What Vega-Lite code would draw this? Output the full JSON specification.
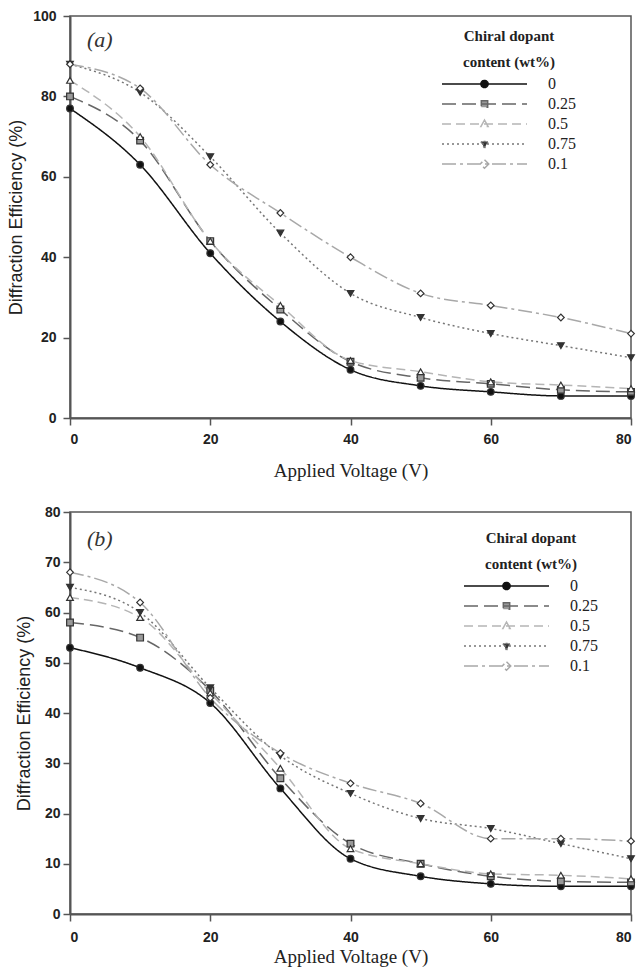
{
  "$schema": "https://vega.github.io/schema/vega-lite/v6.json",
  "padding": {"top": 8, "left": 6, "right": 0, "bottom": 0},
  "background": "white",
  "spacing": 23,
  "config": {
    "view": {"stroke": "#555", "strokeWidth": 1.5},
    "axis": {
      "grid": false, "domainColor": "#555", "domainWidth": 2, "tickColor": "#555", "tickWidth": 1.5, "tickSize": 7,
      "labelFont": "Liberation Sans", "labelFontWeight": "bold", "labelFontSize": 14, "labelColor": "#222",
      "titleColor": "#222", "titleFontWeight": "normal"
    },
    "point": {"size": 45, "strokeWidth": 1.2, "stroke": "#333", "filled": true, "opacity": 1},
    "legend": {
      "orient": "none",
      "titleFont": "Liberation Serif", "titleFontSize": 15, "titleFontWeight": "bold", "titleColor": "#222", "titleLineHeight": 26, "titleAnchor": "middle", "titlePadding": 4,
      "labelFont": "Liberation Serif", "labelFontSize": 16, "labelColor": "#222", "labelOffset": 20,
      "symbolSize": 7225, "clipHeight": 20, "rowPadding": 0, "symbolStrokeWidth": 1.5
    }
  },
  "resolve": {"scale": {"stroke": "independent", "strokeDash": "independent"}, "legend": {"stroke": "independent", "strokeDash": "independent"}},
  "vconcat": [
    {
      "width": 561, "height": 402,
      "title": {"text": "(a)", "anchor": "start", "frame": "group", "offset": -43, "dx": 17, "font": "Liberation Serif", "fontStyle": "italic", "fontSize": 22, "fontWeight": "normal", "color": "#333"},
      "data": {"values": [
        {"V": 0, "DE": 77, "content": "0"}, {"V": 10, "DE": 63, "content": "0"}, {"V": 20, "DE": 41, "content": "0"}, {"V": 30, "DE": 24, "content": "0"}, {"V": 40, "DE": 12, "content": "0"}, {"V": 50, "DE": 8, "content": "0"}, {"V": 60, "DE": 6.5, "content": "0"}, {"V": 70, "DE": 5.5, "content": "0"}, {"V": 80, "DE": 5.5, "content": "0"},
        {"V": 0, "DE": 80, "content": "0.25"}, {"V": 10, "DE": 69, "content": "0.25"}, {"V": 20, "DE": 44, "content": "0.25"}, {"V": 30, "DE": 27, "content": "0.25"}, {"V": 40, "DE": 14, "content": "0.25"}, {"V": 50, "DE": 10, "content": "0.25"}, {"V": 60, "DE": 8.5, "content": "0.25"}, {"V": 70, "DE": 7, "content": "0.25"}, {"V": 80, "DE": 6.5, "content": "0.25"},
        {"V": 0, "DE": 84, "content": "0.5"}, {"V": 10, "DE": 70, "content": "0.5"}, {"V": 20, "DE": 44, "content": "0.5"}, {"V": 30, "DE": 28, "content": "0.5"}, {"V": 40, "DE": 14.3, "content": "0.5"}, {"V": 50, "DE": 11.5, "content": "0.5"}, {"V": 60, "DE": 9, "content": "0.5"}, {"V": 70, "DE": 8.2, "content": "0.5"}, {"V": 80, "DE": 7.3, "content": "0.5"},
        {"V": 0, "DE": 88, "content": "0.75"}, {"V": 10, "DE": 81, "content": "0.75"}, {"V": 20, "DE": 65, "content": "0.75"}, {"V": 30, "DE": 46, "content": "0.75"}, {"V": 40, "DE": 31, "content": "0.75"}, {"V": 50, "DE": 25, "content": "0.75"}, {"V": 60, "DE": 21, "content": "0.75"}, {"V": 70, "DE": 18, "content": "0.75"}, {"V": 80, "DE": 15, "content": "0.75"},
        {"V": 0, "DE": 88, "content": "0.1"}, {"V": 10, "DE": 82, "content": "0.1"}, {"V": 20, "DE": 63, "content": "0.1"}, {"V": 30, "DE": 51, "content": "0.1"}, {"V": 40, "DE": 40, "content": "0.1"}, {"V": 50, "DE": 31, "content": "0.1"}, {"V": 60, "DE": 28, "content": "0.1"}, {"V": 70, "DE": 25, "content": "0.1"}, {"V": 80, "DE": 21, "content": "0.1"}
      ]},
      "encoding": {
        "x": {"field": "V", "type": "quantitative", "scale": {"domain": [0, 80], "nice": false},
          "axis": {"values": [0, 20, 40, 60, 80], "title": "Applied Voltage (V)", "titleFont": "Liberation Serif", "titleFontSize": 19, "titlePadding": 15, "labelPadding": 7}},
        "y": {"field": "DE", "type": "quantitative", "scale": {"domain": [0, 100], "nice": false},
          "axis": {"values": [0, 20, 40, 60, 80, 100], "title": "Diffraction Efficiency (%)", "titleFont": "Liberation Sans", "titleFontSize": 18, "titlePadding": 7, "labelPadding": 7}}
      },
      "layer": [
        {
          "mark": {"type": "line", "interpolate": "monotone", "strokeWidth": 1.5},
          "encoding": {
            "stroke": {"field": "content", "type": "nominal",
              "scale": {"domain": ["0", "0.25", "0.5", "0.75", "0.1"], "range": ["#111", "#666", "#b5b5b5", "#777", "#a8a8a8"]},
              "legend": {"title": ["Chiral dopant", "content (wt%)"], "legendX": 371, "legendY": 13,
                "symbolType": {"expr": "datum.value == '0' ? 'M-1,0H1M0.085,0A0.085,0.085,0,1,1,-0.085,0A0.085,0.085,0,1,1,0.085,0Z' : datum.value == '0.25' ? 'M-1,0H1M-0.075,-0.075H0.075V0.075H-0.075Z' : datum.value == '0.5' ? 'M-1,0H1M0,-0.095L0.085,0.06H-0.085Z' : datum.value == '0.75' ? 'M-1,0H1M0,0.095L0.085,-0.06H-0.085Z' : 'M-1,0H1M0,-0.1L0.1,0L0,0.1L-0.1,0Z'"},
                "symbolFillColor": {"expr": "datum.value == '0' ? '#111' : datum.value == '0.25' ? '#999' : datum.value == '0.75' ? '#333' : '#fff'"}}},
            "strokeDash": {"field": "content", "type": "nominal",
              "scale": {"domain": ["0", "0.25", "0.5", "0.75", "0.1"], "range": [[1, 0], [14, 6], [9, 5], [2, 3], [14, 4, 3, 4]]},
              "legend": {"title": ["Chiral dopant", "content (wt%)"], "legendX": 371, "legendY": 13,
                "symbolType": {"expr": "datum.value == '0' ? 'M-1,0H1M0.085,0A0.085,0.085,0,1,1,-0.085,0A0.085,0.085,0,1,1,0.085,0Z' : datum.value == '0.25' ? 'M-1,0H1M-0.075,-0.075H0.075V0.075H-0.075Z' : datum.value == '0.5' ? 'M-1,0H1M0,-0.095L0.085,0.06H-0.085Z' : datum.value == '0.75' ? 'M-1,0H1M0,0.095L0.085,-0.06H-0.085Z' : 'M-1,0H1M0,-0.1L0.1,0L0,0.1L-0.1,0Z'"},
                "symbolFillColor": {"expr": "datum.value == '0' ? '#111' : datum.value == '0.25' ? '#999' : datum.value == '0.75' ? '#333' : '#fff'"}}}
          }
        },
        {"transform": [{"filter": "datum.content == '0'"}], "mark": {"type": "point", "shape": "circle", "fill": "#111"}},
        {"transform": [{"filter": "datum.content == '0.25'"}], "mark": {"type": "point", "shape": "square", "fill": "#999"}},
        {"transform": [{"filter": "datum.content == '0.5'"}], "mark": {"type": "point", "shape": "triangle-up", "fill": "#fff"}},
        {"transform": [{"filter": "datum.content == '0.75'"}], "mark": {"type": "point", "shape": "triangle-down", "fill": "#333"}},
        {"transform": [{"filter": "datum.content == '0.1'"}], "mark": {"type": "point", "shape": "diamond", "fill": "#fff"}}
      ]
    },
    {
      "width": 561, "height": 402,
      "title": {"text": "(b)", "anchor": "start", "frame": "group", "offset": -46, "dx": 17, "font": "Liberation Serif", "fontStyle": "italic", "fontSize": 22, "fontWeight": "normal", "color": "#333"},
      "data": {"values": [
        {"V": 0, "DE": 53, "content": "0"}, {"V": 10, "DE": 49, "content": "0"}, {"V": 20, "DE": 42, "content": "0"}, {"V": 30, "DE": 25, "content": "0"}, {"V": 40, "DE": 11, "content": "0"}, {"V": 50, "DE": 7.5, "content": "0"}, {"V": 60, "DE": 6, "content": "0"}, {"V": 70, "DE": 5.5, "content": "0"}, {"V": 80, "DE": 5.5, "content": "0"},
        {"V": 0, "DE": 58, "content": "0.25"}, {"V": 10, "DE": 55, "content": "0.25"}, {"V": 20, "DE": 44.5, "content": "0.25"}, {"V": 30, "DE": 27, "content": "0.25"}, {"V": 40, "DE": 14, "content": "0.25"}, {"V": 50, "DE": 10, "content": "0.25"}, {"V": 60, "DE": 7.5, "content": "0.25"}, {"V": 70, "DE": 6.5, "content": "0.25"}, {"V": 80, "DE": 6.3, "content": "0.25"},
        {"V": 0, "DE": 63, "content": "0.5"}, {"V": 10, "DE": 59, "content": "0.5"}, {"V": 20, "DE": 44, "content": "0.5"}, {"V": 30, "DE": 29, "content": "0.5"}, {"V": 40, "DE": 13, "content": "0.5"}, {"V": 50, "DE": 10, "content": "0.5"}, {"V": 60, "DE": 8, "content": "0.5"}, {"V": 70, "DE": 7.7, "content": "0.5"}, {"V": 80, "DE": 7, "content": "0.5"},
        {"V": 0, "DE": 65, "content": "0.75"}, {"V": 10, "DE": 60, "content": "0.75"}, {"V": 20, "DE": 45, "content": "0.75"}, {"V": 30, "DE": 31.5, "content": "0.75"}, {"V": 40, "DE": 24, "content": "0.75"}, {"V": 50, "DE": 19, "content": "0.75"}, {"V": 60, "DE": 17, "content": "0.75"}, {"V": 70, "DE": 14, "content": "0.75"}, {"V": 80, "DE": 11, "content": "0.75"},
        {"V": 0, "DE": 68, "content": "0.1"}, {"V": 10, "DE": 62, "content": "0.1"}, {"V": 20, "DE": 43, "content": "0.1"}, {"V": 30, "DE": 32, "content": "0.1"}, {"V": 40, "DE": 26, "content": "0.1"}, {"V": 50, "DE": 22, "content": "0.1"}, {"V": 60, "DE": 15, "content": "0.1"}, {"V": 70, "DE": 15, "content": "0.1"}, {"V": 80, "DE": 14.5, "content": "0.1"}
      ]},
      "encoding": {
        "x": {"field": "V", "type": "quantitative", "scale": {"domain": [0, 80], "nice": false},
          "axis": {"values": [0, 20, 40, 60, 80], "title": "Applied Voltage (V)", "titleFont": "Liberation Serif", "titleFontSize": 19, "titlePadding": 3, "labelPadding": 9}},
        "y": {"field": "DE", "type": "quantitative", "scale": {"domain": [0, 80], "nice": false},
          "axis": {"values": [0, 10, 20, 30, 40, 50, 60, 70, 80], "title": "Diffraction Efficiency (%)", "titleFont": "Liberation Sans", "titleFontSize": 18, "titlePadding": 11, "labelPadding": 3}}
      },
      "layer": [
        {
          "mark": {"type": "line", "interpolate": "monotone", "strokeWidth": 1.5},
          "encoding": {
            "stroke": {"field": "content", "type": "nominal",
              "scale": {"domain": ["0", "0.25", "0.5", "0.75", "0.1"], "range": ["#111", "#666", "#b5b5b5", "#777", "#a8a8a8"]},
              "legend": {"title": ["Chiral dopant", "content (wt%)"], "legendX": 393, "legendY": 19,
                "symbolType": {"expr": "datum.value == '0' ? 'M-1,0H1M0.085,0A0.085,0.085,0,1,1,-0.085,0A0.085,0.085,0,1,1,0.085,0Z' : datum.value == '0.25' ? 'M-1,0H1M-0.075,-0.075H0.075V0.075H-0.075Z' : datum.value == '0.5' ? 'M-1,0H1M0,-0.095L0.085,0.06H-0.085Z' : datum.value == '0.75' ? 'M-1,0H1M0,0.095L0.085,-0.06H-0.085Z' : 'M-1,0H1M0,-0.1L0.1,0L0,0.1L-0.1,0Z'"},
                "symbolFillColor": {"expr": "datum.value == '0' ? '#111' : datum.value == '0.25' ? '#999' : datum.value == '0.75' ? '#333' : '#fff'"}}},
            "strokeDash": {"field": "content", "type": "nominal",
              "scale": {"domain": ["0", "0.25", "0.5", "0.75", "0.1"], "range": [[1, 0], [14, 6], [9, 5], [2, 3], [14, 4, 3, 4]]},
              "legend": {"title": ["Chiral dopant", "content (wt%)"], "legendX": 393, "legendY": 19,
                "symbolType": {"expr": "datum.value == '0' ? 'M-1,0H1M0.085,0A0.085,0.085,0,1,1,-0.085,0A0.085,0.085,0,1,1,0.085,0Z' : datum.value == '0.25' ? 'M-1,0H1M-0.075,-0.075H0.075V0.075H-0.075Z' : datum.value == '0.5' ? 'M-1,0H1M0,-0.095L0.085,0.06H-0.085Z' : datum.value == '0.75' ? 'M-1,0H1M0,0.095L0.085,-0.06H-0.085Z' : 'M-1,0H1M0,-0.1L0.1,0L0,0.1L-0.1,0Z'"},
                "symbolFillColor": {"expr": "datum.value == '0' ? '#111' : datum.value == '0.25' ? '#999' : datum.value == '0.75' ? '#333' : '#fff'"}}}
          }
        },
        {"transform": [{"filter": "datum.content == '0'"}], "mark": {"type": "point", "shape": "circle", "fill": "#111"}},
        {"transform": [{"filter": "datum.content == '0.25'"}], "mark": {"type": "point", "shape": "square", "fill": "#999"}},
        {"transform": [{"filter": "datum.content == '0.5'"}], "mark": {"type": "point", "shape": "triangle-up", "fill": "#fff"}},
        {"transform": [{"filter": "datum.content == '0.75'"}], "mark": {"type": "point", "shape": "triangle-down", "fill": "#333"}},
        {"transform": [{"filter": "datum.content == '0.1'"}], "mark": {"type": "point", "shape": "diamond", "fill": "#fff"}}
      ]
    }
  ]
}
